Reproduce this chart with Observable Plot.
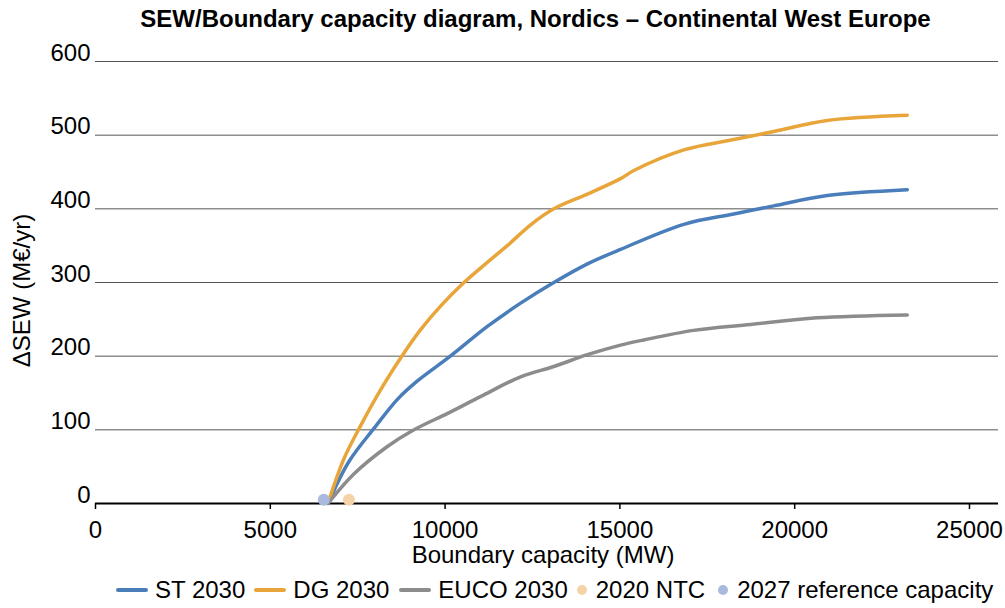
<!DOCTYPE html>
<html>
<head>
<meta charset="utf-8">
<script src="https://cdn.jsdelivr.net/npm/d3@7"></script>
<script src="https://cdn.jsdelivr.net/npm/@observablehq/plot@0.6"></script>
<style>
  html, body { margin: 0; padding: 0; background: #fff; }
  body { width: 1005px; height: 608px; overflow: hidden; font-family: "Liberation Sans", Arial, sans-serif; color: #000; }
  #title { height: 36px; line-height: 38px; font-weight: bold; font-size: 24px; text-align: center; padding-left: 66px; box-sizing: border-box; white-space: nowrap; }
  #legend { height: 44px; display: flex; align-items: center; padding-left: 116px; font-size: 24px; white-space: nowrap; }
  .item { display: flex; align-items: center; }
  .sw-line { width: 32px; height: 4px; border-radius: 2px; margin-right: 7px; }
  .sw-dot { width: 10px; height: 10px; border-radius: 50%; margin-right: 9px; }
  svg { display: block; }
</style>
</head>
<body>
<div id="title">SEW/Boundary capacity diagram, Nordics – Continental West Europe</div>
<div id="chart"></div>
<div id="legend"></div>
<script>
// ---- data ----
const xTicks = [0, 5000, 10000, 15000, 20000, 25000];
const yTicks = [0, 100, 200, 300, 400, 500, 600];

const seriesNames = ["ST 2030", "DG 2030", "EUCO 2030"];
const seriesColors = ["#4a7ebb", "#e8a53a", "#8c8c8c"];

const stX = [6650, 7250, 8000, 8630, 9200, 10150, 11200, 12160, 13110, 14060, 15020, 16830, 18260, 19400, 20930, 23220];
const stY = [0, 57, 104, 141, 166, 200, 240, 272, 300, 325, 345, 379, 393, 404, 418, 426];

const dgX = [6650, 7100, 7520, 8150, 8820, 9300, 9870, 10540, 11300, 11780, 12440, 13110, 14070, 15020, 15400, 16830, 18260, 19400, 20930, 23220];
const dgY = [0, 60, 100, 154, 204, 236, 268, 300, 331, 350, 378, 400, 420, 441, 452, 480, 494, 505, 520, 527];

const euX = [6650, 7390, 8340, 9110, 10060, 11010, 12160, 13110, 14070, 15020, 15680, 17110, 18740, 20640, 23220];
const euY = [0, 40, 77, 100, 122, 145, 172, 186, 202, 215, 222, 235, 243, 252, 256];

const pointNames = ["2020 NTC", "2027 reference capacity"];
const pointX = [7250, 6530];
const pointY = [5, 5];
const pointColors = ["#f5d3a6", "#a9bade"];

// ---- build table ----
const lines = [];
[[stX, stY], [dgX, dgY], [euX, euY]].forEach(([xs, ys], k) => {
  xs.forEach((x, i) => lines.push({series: seriesNames[k], x, y: ys[i]}));
});
const points = pointNames.map((n, i) => ({name: n, x: pointX[i], y: pointY[i]}));

const chart = Plot.plot({
  width: 1005,
  height: 532,
  marginLeft: 95,
  marginRight: 7,
  marginTop: 25,
  marginBottom: 65,
  style: {fontFamily: "'Liberation Sans', Arial, sans-serif", fontSize: "24px", color: "#000", background: "#fff", overflow: "visible"},
  x: {domain: [0, 25830]},
  y: {domain: [0, 600]},
  color: {domain: seriesNames.concat(pointNames), range: seriesColors.concat(pointColors)},
  marks: [
    Plot.gridY(yTicks.filter(d => d > 0), {stroke: "#555", strokeOpacity: 1, strokeWidth: 1}),
    Plot.axisY(yTicks, {tickSize: 0, tickPadding: 5, dy: -8.5, label: null, tickFormat: d3.format("d"), fontSize: 24}),
    Plot.axisX(xTicks, {tickSize: 6, tickPadding: 11, label: null, tickFormat: d3.format("d"), fontSize: 24, strokeWidth: 1.5}),
    Plot.ruleY([0], {stroke: "#000", strokeWidth: 2}),
    Plot.line(lines, {x: "x", y: "y", z: "series", stroke: "series", strokeWidth: 3.5, curve: "catmull-rom", strokeLinecap: "round"}),
    Plot.dot(points, {x: "x", y: "y", fill: "name", r: 6}),
    Plot.text(["ΔSEW (M€/yr)"], {frameAnchor: "left", rotate: -90, dx: -73, dy: 8, textAnchor: "middle", lineAnchor: "middle", fontSize: 24}),
    Plot.text(["Boundary capacity (MW)"], {frameAnchor: "bottom", dx: -4, dy: 52, textAnchor: "middle", lineAnchor: "middle", fontSize: 24})
  ]
});
document.getElementById("chart").appendChild(chart);

// ---- legend ----
const legend = document.getElementById("legend");
const gapsAfter = [9, 10, 9, 13, 0];
seriesNames.forEach((n, i) => {
  const it = document.createElement("div"); it.className = "item";
  it.style.marginRight = gapsAfter[i] + "px";
  it.innerHTML = `<div class="sw-line" style="background:${seriesColors[i]}"></div><span>${n}</span>`;
  legend.appendChild(it);
});
pointNames.forEach((n, i) => {
  const it = document.createElement("div"); it.className = "item";
  it.style.marginRight = gapsAfter[3 + i] + "px";
  it.innerHTML = `<div class="sw-dot" style="background:${pointColors[i]}"></div><span>${n}</span>`;
  legend.appendChild(it);
});
</script>
</body>
</html>
